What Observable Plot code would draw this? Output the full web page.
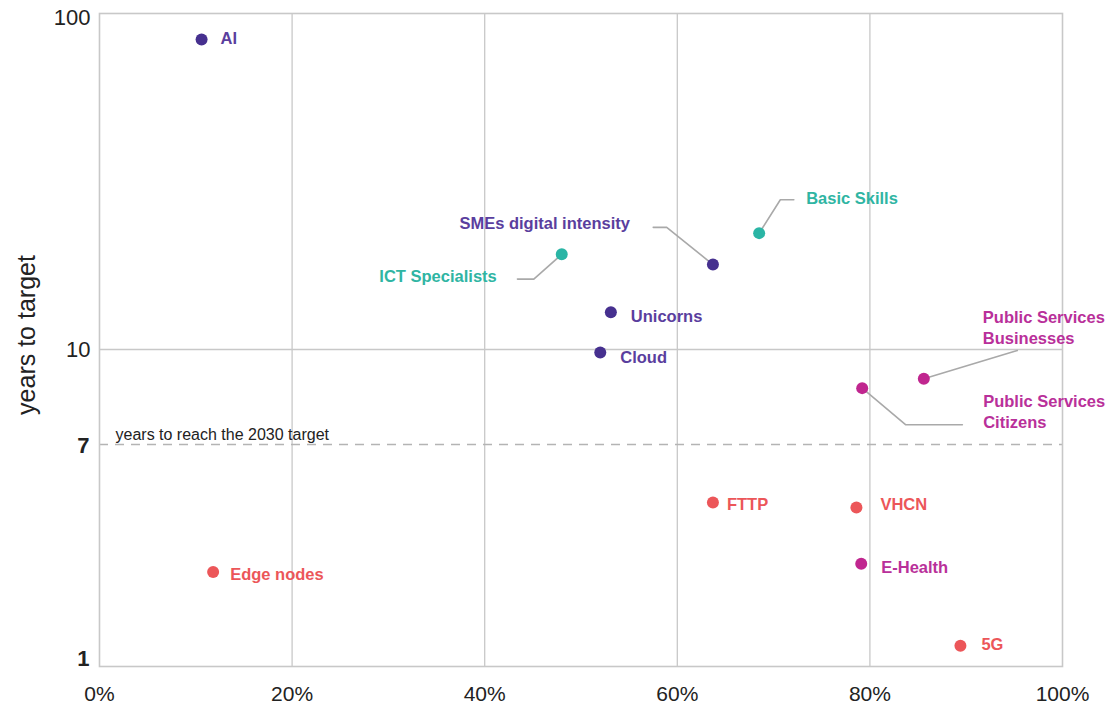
<!DOCTYPE html>
<html><head><meta charset="utf-8">
<script src="https://cdn.jsdelivr.net/npm/d3@7"></script>
<script src="https://cdn.jsdelivr.net/npm/@observablehq/plot@0.6"></script>
<style>
body{margin:0;background:#fff;}
#chart svg{font-family:"Liberation Sans",Arial,sans-serif;}
</style>
</head><body><div id="chart"></div>
<script>
// ---- data ----
const names = ["AI","ICT Specialists","SMEs digital intensity","Basic Skills","Unicorns","Cloud",
  "Public Services\nBusinesses","Public Services\nCitizens","FTTP","VHCN","E-Health","5G","Edge nodes"];
const progressPct = [10.6, 48.0, 63.7, 68.5, 53.1, 52.0, 85.6, 79.2, 63.7, 78.6, 79.1, 89.4, 11.8];
const yearsToTarget = [83.7, 19.2, 17.9, 22.2, 12.9, 9.89, 8.96, 8.65, 4.21, 4.03, 2.46, 1.20, 2.29];
const dimension = ["Business","Skills","Business","Skills","Business","Business",
  "Public services","Public services","Infrastructure","Infrastructure","Public services","Infrastructure","Infrastructure"];
const xTicks = [0, 20, 40, 60, 80, 100];
const yTicks = [1, 7, 10, 100];
const targetYears = 7;
const targetLabel = "years to reach the 2030 target";
const yTitle = "years to target";

// leader lines (data units), keyed by label
const leaderNames = ["Basic Skills","Basic Skills","Basic Skills",
  "SMEs digital intensity","SMEs digital intensity","SMEs digital intensity",
  "ICT Specialists","ICT Specialists","ICT Specialists",
  "PS Businesses","PS Businesses",
  "PS Citizens","PS Citizens","PS Citizens"];
const leaderX = [68.5, 70.7, 72.1,  63.7, 58.9, 57.5,  48.0, 45.1, 43.4,  85.6, 95.3,  79.2, 83.7, 89.6];
const leaderY = [22.2, 27.9, 27.9,  17.9, 23.1, 23.1,  19.2, 16.2, 16.2,  8.96, 9.96,  8.65, 7.54, 7.54];

// ---- layout / style ----
const labelDx = [19, -65, -83, 47, 20, 20, 59, 121, 14, 24, 20, 21, 17];
const labelDy = [-2, 21, -42, -36, 3, 4, -52, 23, 1, -4, 2, -2, 1];
const labelAnchor = ["start","end","end","start","start","start","start","start","start","start","start","start","start"];
const dims = ["Business","Skills","Public services","Infrastructure"];
const dotColors = ["#46308f","#2ab5a5","#c0268f","#ec5659"];
const textColors = {"Business":"#5a3e9e","Skills":"#2fb5a3","Public services":"#b9309a","Infrastructure":"#ec5659"};

const points = names.map((n,i)=>({name:n, x:progressPct[i], y:yearsToTarget[i], dim:dimension[i],
  dx:labelDx[i], dy:labelDy[i], anchor:labelAnchor[i]}));
const leaders = leaderNames.map((n,i)=>({name:n, x:leaderX[i], y:leaderY[i]}));

const grid = "#c8c8c8";
const font = "'Liberation Sans', Arial, sans-serif";

const chart = Plot.plot({
  width: 1118, height: 704,
  marginLeft: 99, marginRight: 56, marginTop: 13, marginBottom: 38,
  style: {fontFamily: font, background: "white", color: "#222"},
  x: {domain: [0, 100]},
  y: {type: "log", domain: [1, 7, 10, 100], range: [666, 444, 349, 13]},
  color: {domain: dims, range: dotColors},
  marks: [
    Plot.ruleX([20, 40, 60, 80], {stroke: grid, strokeWidth: 1.3}),
    Plot.ruleY([10], {stroke: grid, strokeWidth: 1.3}),
    Plot.ruleY([targetYears], {stroke: "#b4b4b4", strokeWidth: 1.3, strokeDasharray: "9,7"}),
    Plot.frame({stroke: grid, strokeWidth: 1.6}),
    Plot.text([targetLabel], {x: 0, y: targetYears, dx: 16, dy: -10, textAnchor: "start",
      fontSize: 16, fill: "#222"}),
    Plot.line(leaders, {x: "x", y: "y", z: "name", stroke: "#a9a9a9", strokeWidth: 1.6}),
    Plot.dot(points, {x: "x", y: "y", r: 6, fill: "dim"}),
    ...points.map(p => Plot.text([p], {x: "x", y: "y", text: "name", dx: p.dx, dy: p.dy,
      textAnchor: p.anchor, fontSize: 16.5, fontWeight: "bold", lineHeight: 1.27,
      fill: textColors[p.dim]})),
    Plot.axisX({ticks: xTicks, tickFormat: d => d + "%", tickSize: 0, tickPadding: 20,
      fontSize: 21, label: null}),
    Plot.axisY({ticks: [100], tickFormat: d => String(d), tickSize: 0, tickPadding: 9,
      fontSize: 22, dy: 4, label: null}),
    Plot.axisY({ticks: [10], tickFormat: d => String(d), tickSize: 0, tickPadding: 9,
      fontSize: 22, label: null}),
    Plot.text([targetYears], {x: 0, y: d => d, text: d => String(d), dx: -10, dy: 1,
      textAnchor: "end", fontSize: 22, fontWeight: "bold", fill: "#222"}),
    Plot.axisY({ticks: [1], tickFormat: d => String(d), tickSize: 0, tickPadding: 10,
      fontSize: 22, fontWeight: "bold", dy: -8, label: null}),
    Plot.text([yTitle], {frameAnchor: "left", textAnchor: "middle", rotate: -90, dx: -73, dy: -5,
      fontSize: 25, fill: "#222"})
  ]
});
document.getElementById("chart").appendChild(chart);
</script></body></html>
